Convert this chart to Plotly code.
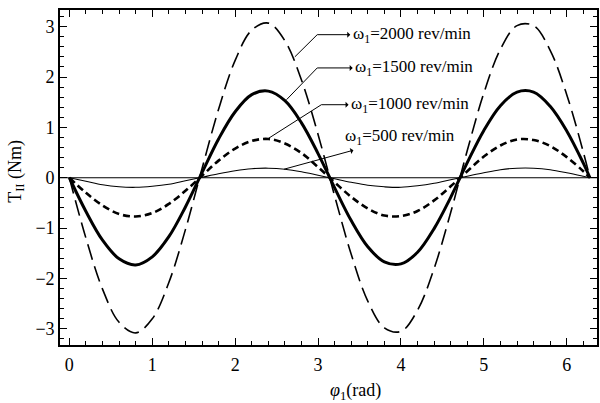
import plotly.graph_objects as go

# angle phi_1 (rad) sample positions
phi = [0, 0.2, 0.4, 0.6, 0.8, 1.0, 1.2, 1.4, 1.6, 1.8, 2.0, 2.2, 2.4, 2.6, 2.8, 3.0,
       3.2, 3.4, 3.6, 3.8, 4.0, 4.2, 4.4, 4.6, 4.8, 5.0, 5.2, 5.4, 5.6, 5.8, 6.0, 6.2, 6.28]

# torque readings T_II (Nm)
t2000 = [0, -1.20, -2.21, -2.87, -3.08, -2.80, -2.08, -1.03, 0.18, 1.36, 2.33, 2.93, 3.07,
         2.72, 1.94, 0.86, -0.36, -1.52, -2.45, -2.98, -3.05, -2.63, -1.80, -0.69, 0.54,
         1.68, 2.55, 3.02, 3.02, 2.53, 1.65, 0.51, 0.0]
t1500 = [0, -0.67, -1.24, -1.61, -1.73, -1.57, -1.17, -0.58, 0.10, 0.77, 1.31, 1.65, 1.72,
         1.53, 1.09, 0.48, -0.20, -0.85, -1.37, -1.67, -1.71, -1.48, -1.01, -0.39, 0.30,
         0.94, 1.43, 1.70, 1.70, 1.42, 0.93, 0.29, 0.0]
t1000 = [0, -0.30, -0.55, -0.72, -0.77, -0.70, -0.52, -0.26, 0.04, 0.34, 0.58, 0.73, 0.77,
         0.68, 0.49, 0.21, -0.09, -0.38, -0.61, -0.75, -0.76, -0.66, -0.45, -0.17, 0.13,
         0.42, 0.64, 0.76, 0.75, 0.63, 0.41, 0.13, 0.0]
t500 = [0, -0.07, -0.14, -0.18, -0.19, -0.17, -0.13, -0.06, 0.01, 0.08, 0.14, 0.18, 0.19,
        0.17, 0.12, 0.05, -0.02, -0.09, -0.15, -0.18, -0.19, -0.16, -0.11, -0.04, 0.03,
        0.10, 0.16, 0.19, 0.19, 0.16, 0.10, 0.03, 0.0]

labels = ["ω<sub>1</sub>=2000 rev/min", "ω<sub>1</sub>=1500 rev/min",
          "ω<sub>1</sub>=1000 rev/min", "ω<sub>1</sub>=500 rev/min"]

FONT = "Liberation Serif"

fig = go.Figure()
styles = [
    (t2000, 1.6, "16px,7px"),
    (t1500, 3.0, "solid"),
    (t1000, 2.6, "7px,4px"),
    (t500, 1.1, "solid"),
]
for (ys, w, d), name in zip(styles, labels):
    fig.add_trace(go.Scatter(x=phi, y=ys, mode="lines", name=name,
                             line=dict(color="black", width=w, dash=d, shape="spline", smoothing=1.0),
                             showlegend=False))

# zero line across
fig.add_shape(type="line", xref="paper", yref="y", x0=0, x1=1, y0=0, y1=0,
              line=dict(color="black", width=1.2), layer="below")

# callouts: start on curve -> elbow, then arrow from elbow to text (head at text side)
callouts = [
    # start, elbow, text centre (x, y)
    ((2.72, 2.40), (2.99, 2.84), (4.13, 2.84)),
    ((2.62, 1.55), (2.99, 2.18), (4.16, 2.18)),
    ((2.40, 0.78), (3.04, 1.45), (4.11, 1.45)),
    ((2.59, 0.17), None, (3.99, 0.80)),
]
for (s, e, tc), lab in zip(callouts, labels):
    if e is not None:
        fig.add_shape(type="line", xref="x", yref="y", x0=s[0], y0=s[1], x1=e[0], y1=e[1],
                      line=dict(color="black", width=1))
        px, py = e
    else:
        px, py = s
    fig.add_annotation(x=px, y=py, ax=tc[0], ay=tc[1], xref="x", yref="y",
                       axref="x", ayref="y", text=lab, showarrow=True, arrowhead=2,
                       arrowside="start", arrowsize=1.2, arrowwidth=1, arrowcolor="black",
                       startstandoff=1,
                       font=dict(family=FONT, size=17, color="black"))

# axis titles as annotations
fig.add_annotation(x=0.551, y=0.0, xref="paper", yref="paper", yshift=-33,
                   text="<i>φ</i><sub>1</sub>(rad)", showarrow=False, yanchor="top",
                   font=dict(family=FONT, size=18, color="black"))
fig.add_annotation(x=-0.0825, y=0.519, xref="paper", yref="paper", textangle=-90,
                   text="T<sub>II</sub> (Nm)", showarrow=False,
                   xanchor="center", yanchor="middle",
                   font=dict(family=FONT, size=18, color="black"))

axis_common = dict(showline=True, linecolor="black", linewidth=1.6, mirror="allticks",
                   ticks="inside", ticklen=7, tickwidth=1.3, tickcolor="black",
                   showgrid=False, zeroline=False,
                   tickfont=dict(family=FONT, size=18, color="black"))

fig.update_xaxes(range=[-0.113, 6.365], tickmode="array", tickvals=[0, 1, 2, 3, 4, 5, 6],
                 ticklabelstandoff=3,
                 minor=dict(dtick=0.2, tick0=0, ticks="inside", ticklen=4, tickwidth=1.1,
                            tickcolor="black", showgrid=False),
                 **axis_common)
fig.update_yaxes(range=[-3.32, 3.33], tickmode="array", tickvals=[-3, -2, -1, 0, 1, 2, 3],
                 ticktext=["−3", "−2", "−1", "0", "1", "2", "3"],
                 minor=dict(dtick=0.2, tick0=0, ticks="inside", ticklen=4, tickwidth=1.1,
                            tickcolor="black", showgrid=False),
                 **axis_common)

fig.update_layout(width=600, height=403, margin=dict(l=59.5, r=1, t=10, b=58),
                  plot_bgcolor="white", paper_bgcolor="white",
                  font=dict(family=FONT, color="black"))

fig.write_html("out.html")
